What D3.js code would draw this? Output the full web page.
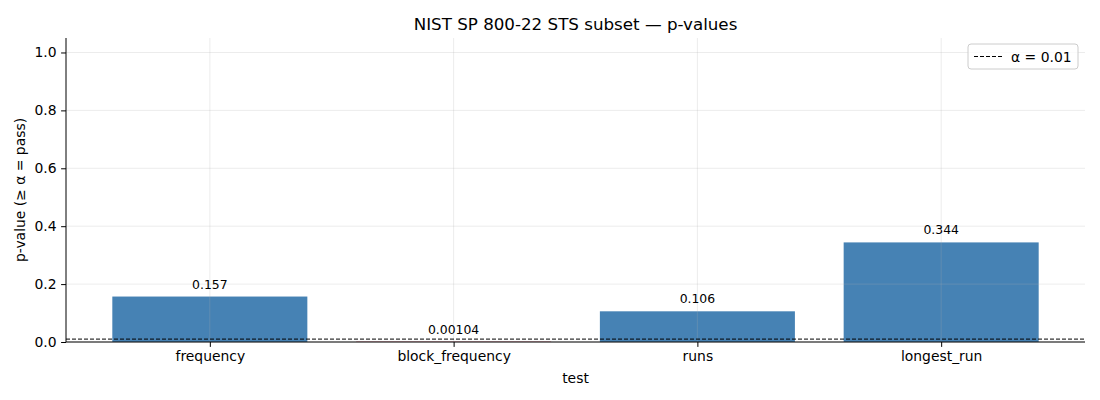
<!DOCTYPE html>
<html>
<head>
<meta charset="utf-8">
<script src="https://cdn.jsdelivr.net/npm/d3@7"></script>
<style>
  body { margin: 0; background: #fff; font-family: "DejaVu Sans", sans-serif; }
  svg text { font-family: "DejaVu Sans", sans-serif; }
</style>
</head>
<body>
<div id="chart"></div>
<script>
const tests = ["frequency", "block_frequency", "runs", "longest_run"]
const pValues = [0.157, 0.00104, 0.106, 0.344]
const valueLabels = ["0.157", "0.00104", "0.106", "0.344"]
const yTicks = [0.0, 0.2, 0.4, 0.6, 0.8, 1.0]
const alphaLevel = 0.01

const width = 1100
const height = 400
const margin = { top: 38, right: 15, bottom: 58, left: 66 }
const chartWidth = width - margin.left - margin.right
const chartHeight = height - margin.top - margin.bottom

const svg = d3.select("#chart")
  .append("svg")
  .attr("width", width)
  .attr("height", height)

const g = svg.append("g")
  .attr("transform", `translate(${margin.left},${margin.top})`)

// matplotlib-like bar positions: width 0.8, 5% margins
const x = d3.scaleLinear()
  .domain([-0.59, tests.length - 1 + 0.59])
  .range([0, chartWidth])
const barW = x(0.8) - x(0)

const y = d3.scaleLinear()
  .domain([0, 1.05])
  .range([chartHeight, 0])

// bars
g.selectAll("rect.bar")
  .data(tests)
  .join("rect")
  .attr("class", "bar")
  .attr("x", (d, i) => x(i) - barW / 2)
  .attr("width", barW)
  .attr("y", (d, i) => y(pValues[i]))
  .attr("height", (d, i) => y(0) - y(pValues[i]))
  .attr("fill", (d, i) => pValues[i] < alphaLevel ? "#c0203a" : "steelblue")

// grid on top, faint
const grid = g.append("g").attr("class", "grid")
grid.selectAll("line.h")
  .data(yTicks)
  .join("line")
  .attr("x1", 0).attr("x2", chartWidth)
  .attr("y1", d => y(d)).attr("y2", d => y(d))
  .attr("stroke", "#b0b0b0").attr("stroke-opacity", 0.3).attr("stroke-width", 0.8)
grid.selectAll("line.v")
  .data(tests)
  .join("line")
  .attr("x1", (d, i) => x(i)).attr("x2", (d, i) => x(i))
  .attr("y1", 0).attr("y2", chartHeight)
  .attr("stroke", "#b0b0b0").attr("stroke-opacity", 0.3).attr("stroke-width", 0.8)

// alpha threshold line
g.append("line")
  .attr("x1", 0).attr("x2", chartWidth)
  .attr("y1", y(alphaLevel)).attr("y2", y(alphaLevel))
  .attr("stroke", "black")
  .attr("stroke-width", 1)
  .attr("stroke-dasharray", "4,2")

// value labels
g.selectAll("text.val")
  .data(tests)
  .join("text")
  .attr("class", "val")
  .attr("x", (d, i) => x(i))
  .attr("y", (d, i) => y(pValues[i]) - 8)
  .attr("text-anchor", "middle")
  .style("font-size", "12.4px")
  .attr("fill", "#000")
  .text((d, i) => valueLabels[i])

// axes
const xAxis = g.append("g")
  .attr("transform", `translate(0,${chartHeight})`)
  .call(d3.axisBottom(x).tickValues(tests.map((d, i) => i)).tickFormat(i => tests[i]).tickSize(4.9).tickPadding(4.5))
xAxis.selectAll("text").style("font-size", "13.9px").attr("fill", "#000")

const yAxis = g.append("g")
  .call(d3.axisLeft(y).tickValues(yTicks).tickFormat(d3.format(".1f")).tickSize(4.9).tickPadding(4.5))
yAxis.selectAll("text").style("font-size", "13.9px").attr("fill", "#000")
xAxis.select(".domain").attr("d", `M0,0H${chartWidth}`).attr("stroke-width", 1)
yAxis.select(".domain").attr("d", `M0,${chartHeight}V0`).attr("stroke-width", 1)

// axis labels
g.append("text")
  .attr("x", chartWidth / 2)
  .attr("y", chartHeight + 41)
  .attr("text-anchor", "middle")
  .style("font-size", "13.9px")
  .text("test")

g.append("text")
  .attr("transform", `translate(${-41},${chartHeight / 2}) rotate(-90)`)
  .attr("text-anchor", "middle")
  .style("font-size", "13.9px")
  .text("p-value (≥ α = pass)")

// title
svg.append("text")
  .attr("x", margin.left + chartWidth / 2)
  .attr("y", 30)
  .attr("text-anchor", "middle")
  .style("font-size", "16.7px")
  .text("NIST SP 800-22 STS subset — p-values")

// legend
const legend = g.append("g")
  .attr("transform", `translate(${chartWidth - 117},6)`)
legend.append("rect")
  .attr("width", 110).attr("height", 25)
  .attr("rx", 3)
  .attr("fill", "white").attr("fill-opacity", 0.8)
  .attr("stroke", "#cccccc")
legend.append("line")
  .attr("x1", 6).attr("x2", 34)
  .attr("y1", 12.5).attr("y2", 12.5)
  .attr("stroke", "black").attr("stroke-width", 1)
  .attr("stroke-dasharray", "4,2")
legend.append("text")
  .attr("x", 43).attr("y", 17.5)
  .style("font-size", "13.9px")
  .text("α = 0.01")
</script>
</body>
</html>
